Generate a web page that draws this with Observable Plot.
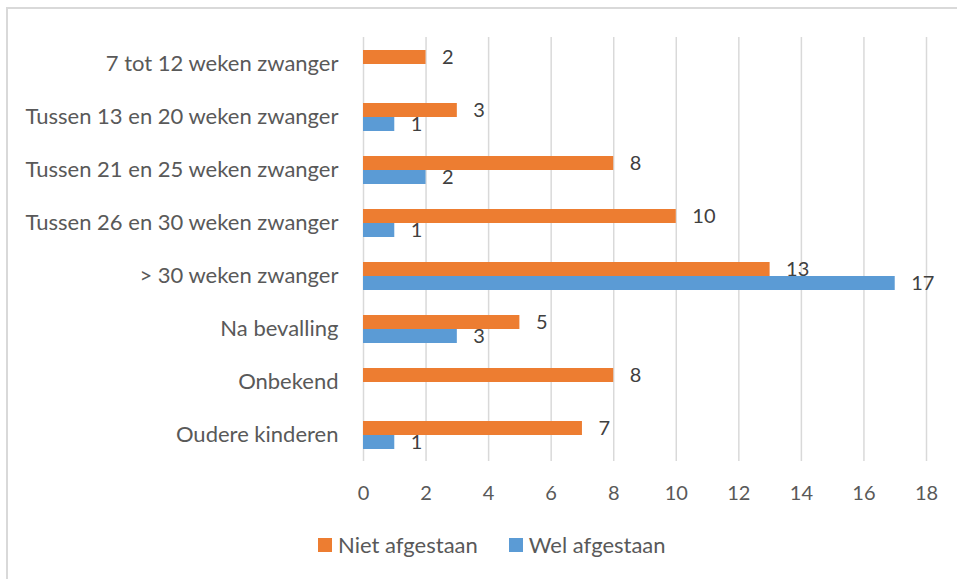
<!DOCTYPE html>
<html><head><meta charset="utf-8">
<script src="https://cdn.jsdelivr.net/npm/d3@7"></script>
<script src="https://cdn.jsdelivr.net/npm/@observablehq/plot@0.6"></script>
<style>
body{margin:0;background:#fff;font-family:Lato,"Open Sans",sans-serif;}
#frame{position:absolute;left:6px;top:7px;width:1000px;height:700px;border:2px solid #d9d9d9;box-sizing:border-box;}
#chart{position:absolute;left:0;top:0;}
#legend{position:absolute;top:532px;left:318px;height:26px;display:flex;align-items:center;font-size:22px;line-height:26px;color:#595959;white-space:nowrap;}
#legend .sw{display:inline-block;width:14px;height:14px;margin-right:6px;}
#legend .item{display:flex;align-items:center;margin-right:31px;}
</style></head><body>
<div id="frame"></div>
<div id="chart"></div>
<div id="legend"></div>
<script>
const categories = ["7 tot 12 weken zwanger","Tussen 13 en 20 weken zwanger","Tussen 21 en 25 weken zwanger","Tussen 26 en 30 weken zwanger","> 30 weken zwanger","Na bevalling","Onbekend","Oudere kinderen"];
const series = ["Niet afgestaan","Wel afgestaan"];
const nietAfgestaan = [2,3,8,10,13,5,8,7];
const welAfgestaan = [null,1,2,1,17,3,null,1];
const xTicks = [0,2,4,6,8,10,12,14,16,18];
const colors = ["#ED7D31","#5B9BD5"];

const rows = [];
categories.forEach((c,i)=>{
  if (nietAfgestaan[i] != null) rows.push({category:c, series:series[0], value:nietAfgestaan[i]});
  if (welAfgestaan[i] != null) rows.push({category:c, series:series[1], value:welAfgestaan[i]});
});

const chart = Plot.plot({
  width:957, height:520,
  marginTop:37, marginBottom:59, marginLeft:363, marginRight:31,
  style:{fontFamily:"Lato, 'Open Sans', sans-serif", fontSize:"20px", color:"#595959", background:"transparent", overflow:"visible"},
  x:{domain:[0,18], ticks:xTicks, tickSize:0, tickPadding:24, label:null},
  fy:{domain:categories, padding:0, label:null, tickSize:0, tickPadding:25},
  y:{domain:series, axis:null, paddingInner:0, paddingOuter:0.89},
  color:{domain:series, range:colors},
  marks:[
    Plot.ruleX(xTicks,{x:d=>d, stroke:"#d9d9d9", strokeWidth:1.5}),
    Plot.barX(rows,{x:"value", y:"series", fy:"category", fill:"series"}),
    Plot.text(rows,{x:"value", y:"series", fy:"category", text:d=>String(d.value), dx:16, textAnchor:"start", fill:"#404040", fontSize:20})
  ]
});
// enlarge category labels (fy axis) to match reference
chart.querySelectorAll("g[aria-label='fy-axis'] text, g[aria-label='fy-axis tick label'] text").forEach(t=>t.setAttribute("font-size","22"));
const fyAxis = chart.querySelector("g[aria-label='fy-axis']") || chart.querySelector("g[aria-label='fy-axis tick label']");
if (fyAxis) fyAxis.setAttribute("font-size","22");
document.getElementById("chart").appendChild(chart);

const legend = document.getElementById("legend");
series.forEach((s,i)=>{
  const it = document.createElement("span"); it.className="item";
  const sw = document.createElement("span"); sw.className="sw"; sw.style.background=colors[i];
  it.appendChild(sw); it.appendChild(document.createTextNode(s));
  legend.appendChild(it);
});
</script>
</body></html>
